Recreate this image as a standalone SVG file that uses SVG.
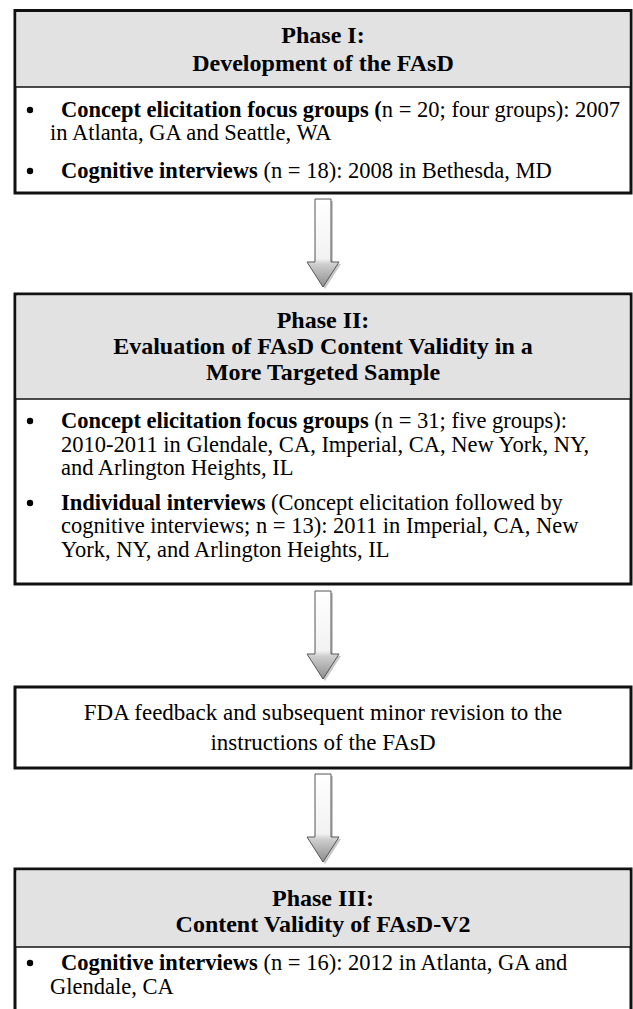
<svg xmlns="http://www.w3.org/2000/svg" width="633" height="1009" viewBox="0 0 633 1009">
<style>
text{font-family:"Liberation Serif","Times New Roman",serif;fill:#000}
.h{font-size:24px;font-weight:bold;text-anchor:middle}
.t{font-size:22.5px}
.b{font-weight:bold}
.c{font-size:23px;text-anchor:middle}
.box{fill:#fff;stroke:#111;stroke-width:3}
.hdr{fill:#e2e2e2}
.sep{stroke:#111;stroke-width:1.5}
.arrow{fill:url(#ag);stroke:#555;stroke-width:1}
.shadow{fill:#c8c8c8}
.dot{fill:#000}
</style>
<defs>
<linearGradient id="ag" x1="0" y1="0" x2="0" y2="1">
<stop offset="0" stop-color="#ffffff"/>
<stop offset="0.68" stop-color="#f2f2f2"/>
<stop offset="0.74" stop-color="#cfcfcf"/>
<stop offset="1" stop-color="#8c8c8c"/>
</linearGradient>
<path id="arr" d="M-8,0 H8 V63 H16 L0,88 L-16,63 H-8 Z"/>
</defs>
<rect width="633" height="1009" fill="#fff"/>

<g id="phase1">
<rect class="box" x="15" y="10.5" width="616" height="182.5"/>
<rect class="hdr" x="16.5" y="12" width="613" height="75"/>
<line class="sep" x1="15" y1="87" x2="631" y2="87"/>
<text class="h" x="323" y="43">Phase I:</text>
<text class="h" x="323" y="71">Development of the FAsD</text>
<circle class="dot" cx="30" cy="110" r="3.2"/>
<text class="t" x="61" y="117"><tspan class="b">Concept elicitation focus groups (</tspan>n = 20; four groups): 2007</text>
<text class="t" x="50" y="140">in Atlanta, GA and Seattle, WA</text>
<circle class="dot" cx="30" cy="171" r="3.2"/>
<text class="t" x="61" y="178"><tspan class="b">Cognitive interviews</tspan> (n = 18): 2008 in Bethesda, MD</text>
</g>

<g id="phase2">
<rect class="box" x="15" y="294" width="616" height="290"/>
<rect class="hdr" x="16.5" y="295.5" width="613" height="103"/>
<line class="sep" x1="15" y1="399" x2="631" y2="399"/>
<text class="h" x="323" y="328">Phase II:</text>
<text class="h" x="323" y="354">Evaluation of FAsD Content Validity in a</text>
<text class="h" x="323" y="380">More Targeted Sample</text>
<circle class="dot" cx="30" cy="421" r="3.2"/>
<text class="t" x="61" y="428"><tspan class="b">Concept elicitation focus groups</tspan> (n = 31; five groups):</text>
<text class="t" x="61" y="452">2010-2011 in Glendale, CA, Imperial, CA, New York, NY,</text>
<text class="t" x="61" y="475">and Arlington Heights, IL</text>
<circle class="dot" cx="30" cy="503" r="3.2"/>
<text class="t" x="61" y="510"><tspan class="b">Individual interviews</tspan> (Concept elicitation followed by</text>
<text class="t" x="61" y="533">cognitive interviews; n = 13): 2011 in Imperial, CA, New</text>
<text class="t" x="61" y="557">York, NY, and Arlington Heights, IL</text>
</g>

<g id="fda">
<rect class="box" x="15" y="687" width="616" height="81"/>
<text class="c" x="323" y="720">FDA feedback and subsequent minor revision to the</text>
<text class="c" x="323" y="750">instructions of the FAsD</text>
</g>

<g id="phase3">
<rect class="box" x="15" y="869" width="616" height="150"/>
<rect class="hdr" x="16.5" y="870.5" width="613" height="76"/>
<line class="sep" x1="15" y1="947" x2="631" y2="947"/>
<text class="h" x="323" y="906">Phase III:</text>
<text class="h" x="323" y="932">Content Validity of FAsD-V2</text>
<circle class="dot" cx="30" cy="963" r="3.2"/>
<text class="t" x="61" y="970"><tspan class="b">Cognitive interviews</tspan> (n = 16): 2012 in Atlanta, GA and</text>
<text class="t" x="50" y="994">Glendale, CA</text>
</g>

<g id="connectors">
<use href="#arr" x="325" y="201" class="shadow"/>
<use href="#arr" x="323" y="199" class="arrow"/>
<use href="#arr" x="325" y="593" class="shadow"/>
<use href="#arr" x="323" y="591" class="arrow"/>
<use href="#arr" x="325" y="776" class="shadow"/>
<use href="#arr" x="323" y="774" class="arrow"/>
</g>
</svg>
